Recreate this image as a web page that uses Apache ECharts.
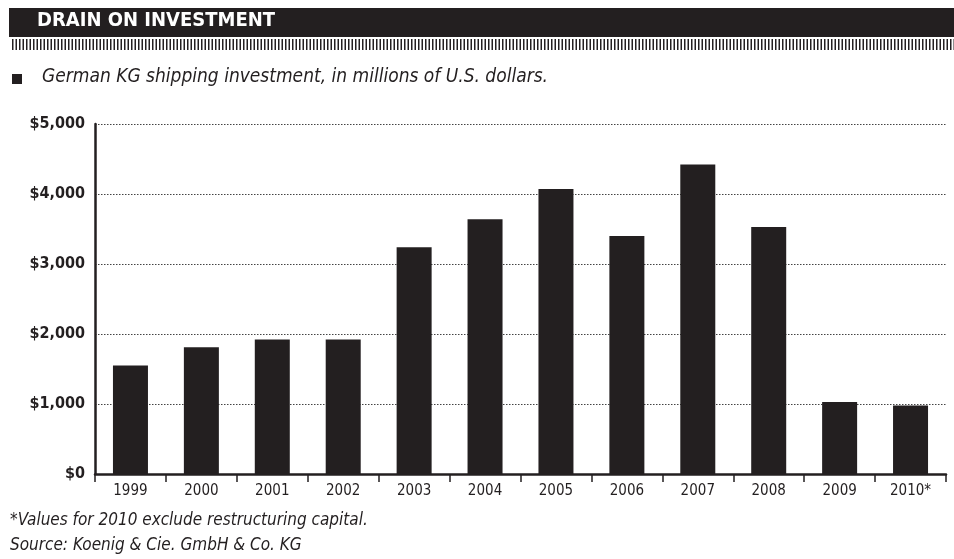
<!DOCTYPE html>
<html>
<head>
<meta charset="utf-8">
<script src="https://cdn.jsdelivr.net/npm/echarts@6/dist/echarts.min.js"></script>
<style>
html,body{margin:0;padding:0;background:#fff;}
#chart{width:954px;height:559px;}
</style>
</head>
<body>
<div id="chart"></div>
<script>
var titleText = 'DRAIN ON INVESTMENT';
var subtitleText = 'German KG shipping investment, in millions of U.S. dollars.';
var footnoteText = '*Values for 2010 exclude restructuring capital.';
var sourceText = 'Source: Koenig & Cie. GmbH & Co. KG';
var years = ['1999','2000','2001','2002','2003','2004','2005','2006','2007','2008','2009','2010*'];
var investment = [1550, 1810, 1920, 1920, 3240, 3640, 4070, 3400, 4420, 3530, 1030, 980];
var yTicks = [0, 1000, 2000, 3000, 4000, 5000];

var INK = '#231f20';
var FONT = "'Liberation Sans Narrow','DejaVu Sans Condensed','Roboto Condensed','Liberation Sans',sans-serif";

var stripes = [];
for (var x = 12; x < 954; x += 3.5) {
  stripes.push({type:'rect', shape:{x:x, y:39, width:1.5, height:11}, style:{fill:INK}, silent:true});
}

var chart = echarts.init(document.getElementById('chart'), null, {renderer:'canvas'});
chart.setOption({
  animation:false,
  backgroundColor:'#ffffff',
  grid:{left:95, right:8, top:124, bottom:85, containLabel:false},
  xAxis:{
    type:'category',
    data:years,
    boundaryGap:true,
    axisLine:{show:true, lineStyle:{color:INK, width:2.5}},
    axisTick:{show:true, length:8, lineStyle:{color:INK, width:1.5}},
    axisLabel:{color:INK, fontFamily:FONT, fontSize:15, margin:10}
  },
  yAxis:{
    type:'value',
    min:yTicks[0],
    max:yTicks[yTicks.length-1],
    interval:yTicks[1]-yTicks[0],
    axisLine:{show:true, lineStyle:{color:INK, width:2.5}},
    axisTick:{show:false},
    axisLabel:{color:INK, fontFamily:FONT, fontSize:16, fontWeight:'bold', margin:10,
      formatter:function(v){ return '$' + v.toLocaleString('en-US'); }},
    splitLine:{show:true, lineStyle:{color:'#444', width:1, type:[1.5,1.5]}}
  },
  series:[{
    type:'bar',
    data:investment,
    barWidth:35,
    itemStyle:{color:INK},
    z:3
  }],
  graphic:[
    {type:'rect', shape:{x:9, y:8, width:945, height:29}, style:{fill:INK}, silent:true},
    {type:'text', left:37, top:11, style:{text:titleText, fill:'#fff', font:"bold 20px " + FONT}, silent:true},
    {type:'group', children:stripes, silent:true},
    {type:'rect', shape:{x:12, y:74, width:10, height:10}, style:{fill:INK}, silent:true},
    {type:'text', left:42, top:68, style:{text:subtitleText, fill:INK, font:"italic 19px " + FONT}, silent:true},
    {type:'text', left:10, top:512, style:{text:footnoteText, fill:INK, font:"italic 17px " + FONT}, silent:true},
    {type:'text', left:10, top:537, style:{text:sourceText, fill:INK, font:"italic 17px " + FONT}, silent:true}
  ]
});
</script>
</body>
</html>
